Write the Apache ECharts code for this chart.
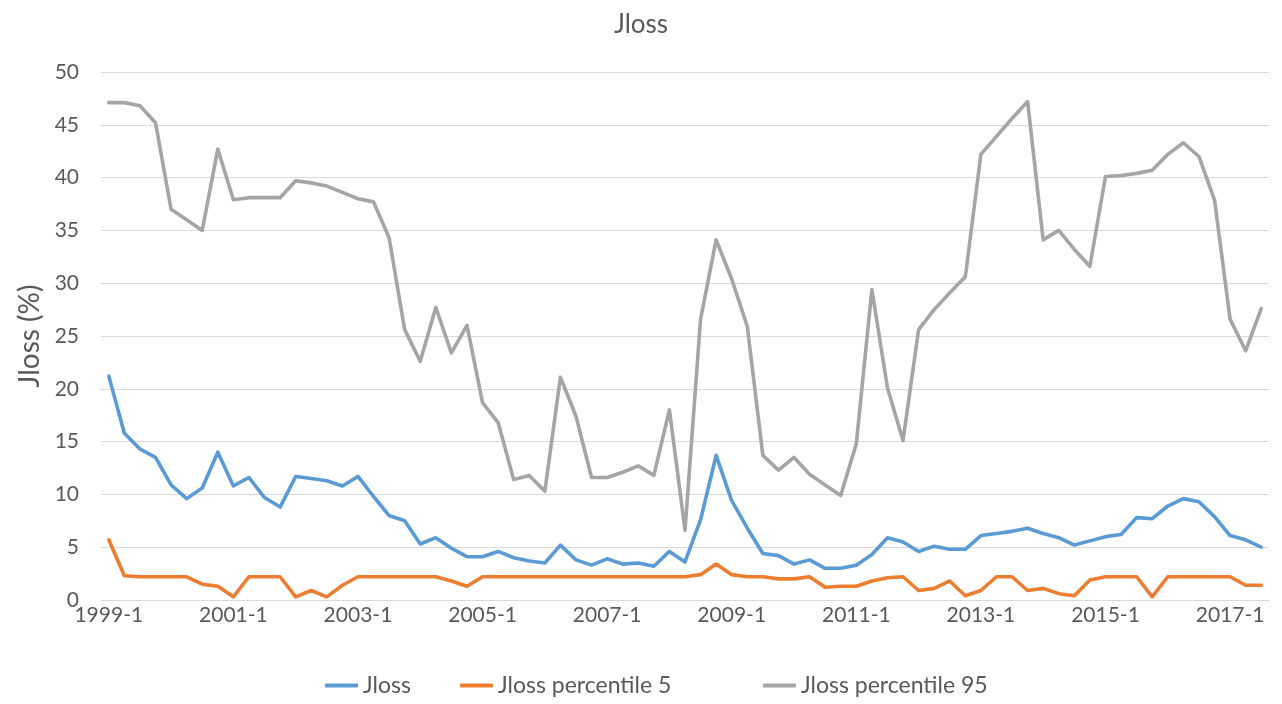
<!DOCTYPE html>
<html>
<head>
<meta charset="utf-8">
<script src="https://cdn.jsdelivr.net/npm/echarts@6/dist/echarts.min.js"></script>
<style>
  html, body { margin: 0; padding: 0; background: #ffffff; }
  #chart { width: 1282px; height: 704px; }
</style>
</head>
<body>
<div id="chart"></div>
<script>
// Quarterly periods 1999-1 .. 2017-3
const years = [1999, 2000, 2001, 2002, 2003, 2004, 2005, 2006, 2007, 2008,
               2009, 2010, 2011, 2012, 2013, 2014, 2015, 2016, 2017];
const quarters = [1, 2, 3, 4];
const lastPeriod = '2017-3';

const categories = [];
for (const y of years) {
  for (const q of quarters) {
    const label = y + '-' + q;
    categories.push(label);
    if (label === lastPeriod) break;
  }
}

// Jloss (%)
const jloss = [
  21.2, 15.8, 14.3, 13.5, 10.9, 9.6, 10.6, 14.0, 10.8, 11.6, 9.7, 8.8,
  11.7, 11.5, 11.3, 10.8, 11.7, 9.8, 8.0, 7.5, 5.3, 5.9, 4.9, 4.1,
  4.1, 4.6, 4.0, 3.7, 3.5, 5.2, 3.8, 3.3, 3.9, 3.4, 3.5, 3.2,
  4.6, 3.6, 7.6, 13.7, 9.4, 6.8, 4.4, 4.2, 3.4, 3.8, 3.0, 3.0,
  3.3, 4.3, 5.9, 5.5, 4.6, 5.1, 4.8, 4.8, 6.1, 6.3, 6.5, 6.8,
  6.3, 5.9, 5.2, 5.6, 6.0, 6.2, 7.8, 7.7, 8.9, 9.6, 9.3, 7.9,
  6.1, 5.7, 5.0
];

// Jloss percentile 5
const jlossP5 = [
  5.7, 2.3, 2.2, 2.2, 2.2, 2.2, 1.5, 1.3, 0.3, 2.2, 2.2, 2.2,
  0.3, 0.9, 0.3, 1.4, 2.2, 2.2, 2.2, 2.2, 2.2, 2.2, 1.8, 1.3,
  2.2, 2.2, 2.2, 2.2, 2.2, 2.2, 2.2, 2.2, 2.2, 2.2, 2.2, 2.2,
  2.2, 2.2, 2.4, 3.4, 2.4, 2.2, 2.2, 2.0, 2.0, 2.2, 1.2, 1.3,
  1.3, 1.8, 2.1, 2.2, 0.9, 1.1, 1.8, 0.4, 0.9, 2.2, 2.2, 0.9,
  1.1, 0.6, 0.4, 1.9, 2.2, 2.2, 2.2, 0.3, 2.2, 2.2, 2.2, 2.2,
  2.2, 1.4, 1.4
];

// Jloss percentile 95
const jlossP95 = [
  47.1, 47.1, 46.8, 45.2, 37.0, 36.0, 35.0, 42.7, 37.9, 38.1, 38.1, 38.1,
  39.7, 39.5, 39.2, 38.6, 38.0, 37.7, 34.3, 25.6, 22.6, 27.7, 23.4, 26.0,
  18.7, 16.8, 11.4, 11.8, 10.3, 21.1, 17.4, 11.6, 11.6, 12.1, 12.7, 11.8,
  18.0, 6.6, 26.6, 34.1, 30.4, 25.9, 13.7, 12.3, 13.5, 11.9, 10.9, 9.9,
  14.8, 29.4, 20.1, 15.1, 25.6, 27.5, 29.1, 30.6, 42.2, 43.9, 45.6, 47.2,
  34.1, 35.0, 33.2, 31.6, 40.1, 40.2, 40.4, 40.7, 42.2, 43.3, 42.0, 37.9,
  26.6, 23.6, 27.6
];

// Value axis ticks
const yMin = 0;
const yMax = 50;
const yStep = 5;

const seriesNames = ['Jloss', 'Jloss percentile 5', 'Jloss percentile 95'];
const seriesColors = ['#5B9BD5', '#ED7D31', '#A5A5A5'];
const seriesData = [jloss, jlossP5, jlossP95];

const textColor = '#595959';
const fontFamily = 'Lato, "Open Sans", sans-serif';

// one legend block per series, laid out along the bottom row
const legendLeft = [320, 455, 758];
const legends = seriesNames.map((name, k) => ({
  bottom: 2,
  left: legendLeft[k],
  itemWidth: 33,
  itemHeight: 4,
  icon: 'roundRect',
  data: [name],
  textStyle: { color: textColor, fontSize: 23, fontFamily: fontFamily }
}));

const chart = echarts.init(document.getElementById('chart'), null, { renderer: 'canvas' });

chart.setOption({
  animation: false,
  backgroundColor: '#ffffff',
  textStyle: { fontFamily: fontFamily },
  title: {
    text: 'Jloss',
    left: 'center',
    top: 7,
    textStyle: { color: textColor, fontSize: 26, fontWeight: 'normal', fontFamily: fontFamily }
  },
  legend: legends,
  grid: {
    left: 101,
    right: 13,
    top: 72,
    bottom: 104,
    containLabel: false,
    outerBoundsMode: 'none'
  },
  xAxis: {
    type: 'category',
    data: categories,
    boundaryGap: true,
    axisLine: { show: true, lineStyle: { color: '#D9D9D9', width: 1 } },
    axisTick: { show: false },
    axisLabel: {
      interval: 7,
      color: textColor,
      fontSize: 21,
      fontFamily: fontFamily,
      margin: 5
    },
    splitLine: { show: false }
  },
  yAxis: {
    type: 'value',
    min: yMin,
    max: yMax,
    interval: yStep,
    name: 'Jloss (%)',
    nameLocation: 'middle',
    nameGap: 56,
    nameRotate: 90,
    nameTextStyle: { color: textColor, fontSize: 28, fontFamily: fontFamily },
    axisLine: { show: false },
    axisTick: { show: false },
    axisLabel: { color: textColor, fontSize: 21, fontFamily: fontFamily, margin: 22 },
    splitLine: { show: true, lineStyle: { color: '#D9D9D9', width: 1 } }
  },
  series: seriesNames.map((name, k) => ({
    name: name,
    type: 'line',
    data: seriesData[k],
    symbol: 'none',
    smooth: false,
    color: seriesColors[k],
    lineStyle: { width: 3.6, color: seriesColors[k], cap: 'round', join: 'round' },
    z: 3 - k
  }))
});
</script>
</body>
</html>
